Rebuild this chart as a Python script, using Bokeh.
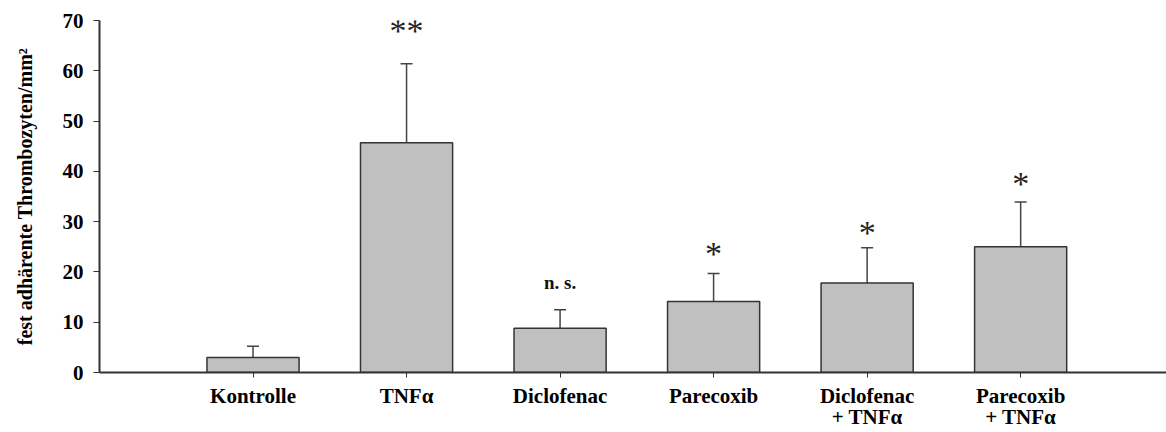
from bokeh.plotting import figure
from bokeh.models import Range1d, FixedTicker, ColumnDataSource, Whisker, TeeHead, LabelSet
from bokeh.embed import file_html
from bokeh.resources import INLINE

# Groups, means and upper error limits (fest adhärente Thrombozyten/mm²)
groups = ["Kontrolle", "TNFα", "Diclofenac", "Parecoxib", "Diclofenac\n+ TNFα", "Parecoxib\n+ TNFα"]
means = [3.0, 45.7, 8.8, 14.1, 17.8, 25.0]
upper = [5.2, 61.4, 12.5, 19.7, 24.8, 33.9]
# Significance marks and their heights
sig_labels = ["", "**", "n. s.", "*", "*", "*"]
sig_y = [0.0, 68.6, 17.8, 24.3, 28.4, 38.2]
y_ticks = [0, 10, 20, 30, 40, 50, 60, 70]

xs = list(range(len(groups)))
src = ColumnDataSource(dict(x=xs, top=means, upper=upper))

p = figure(width=1166, height=432, output_backend="svg", toolbar_location=None,
           x_range=Range1d(-1.0, 5.95), y_range=Range1d(0, 70),
           min_border_left=99, min_border_right=0, min_border_top=20, min_border_bottom=60)
p.outline_line_color = None
p.xgrid.visible = False
p.ygrid.visible = False
p.background_fill_color = "white"
p.border_fill_color = "white"

p.vbar(x="x", top="top", bottom=0, width=0.6, source=src,
       fill_color="#c0c0c0", line_color="#333333", line_width=1.5)

err = Whisker(base="x", lower="top", upper="upper", source=src,
              line_color="#444444", line_width=1.5, lower_head=None,
              upper_head=TeeHead(size=12, line_color="#444444", line_width=1.5))
p.add_layout(err)

# significance marks
star_idx = [i for i, s in enumerate(sig_labels) if s.startswith("*")]
star_src = ColumnDataSource(dict(x=[xs[i] for i in star_idx], y=[sig_y[i] for i in star_idx],
                                 t=[sig_labels[i] for i in star_idx]))
p.add_layout(LabelSet(x="x", y="y", text="t", source=star_src,
                      text_font="Liberation Sans", text_font_size="34px",
                      text_align="center", text_baseline="middle", text_color="#222222",
                      y_offset=-3))
ns_idx = [i for i, s in enumerate(sig_labels) if s and not s.startswith("*")]
ns_src = ColumnDataSource(dict(x=[xs[i] for i in ns_idx], y=[sig_y[i] for i in ns_idx],
                               t=[sig_labels[i] for i in ns_idx]))
p.add_layout(LabelSet(x="x", y="y", text="t", source=ns_src,
                      text_font="Liberation Serif", text_font_style="bold", text_font_size="19px",
                      text_align="center", text_baseline="middle", text_color="#111111"))

xa = p.xaxis[0]
xa.ticker = FixedTicker(ticks=xs)
xa.major_label_overrides = {i: g for i, g in enumerate(groups)}
xa.minor_tick_line_color = None
xa.major_tick_in = 0
xa.major_tick_out = 5
xa.major_label_standoff = 6
xa.axis_line_color = "#333333"
xa.axis_line_width = 2
xa.major_tick_line_color = "#333333"
xa.major_label_text_font = "Liberation Serif"
xa.major_label_text_font_style = "bold"
xa.major_label_text_font_size = "21px"
xa.major_label_text_line_height = 0.9
xa.major_label_text_color = "black"

ya = p.yaxis[0]
ya.ticker = FixedTicker(ticks=y_ticks)
ya.minor_tick_line_color = None
ya.major_tick_in = 0
ya.major_tick_out = 6
ya.major_label_standoff = 10
ya.axis_line_color = "#333333"
ya.axis_line_width = 2
ya.major_tick_line_color = "#333333"
ya.major_label_text_font = "Liberation Serif"
ya.major_label_text_font_style = "bold"
ya.major_label_text_font_size = "21px"
ya.major_label_text_color = "black"
ya.axis_label = "fest adhärente Thrombozyten/mm²"
ya.axis_label_text_font = "Liberation Serif"
ya.axis_label_text_font_style = "bold"
ya.axis_label_text_font_size = "20px"
ya.axis_label_text_color = "black"
ya.axis_label_standoff = 24

open("out.html", "w").write(file_html(p, INLINE))
